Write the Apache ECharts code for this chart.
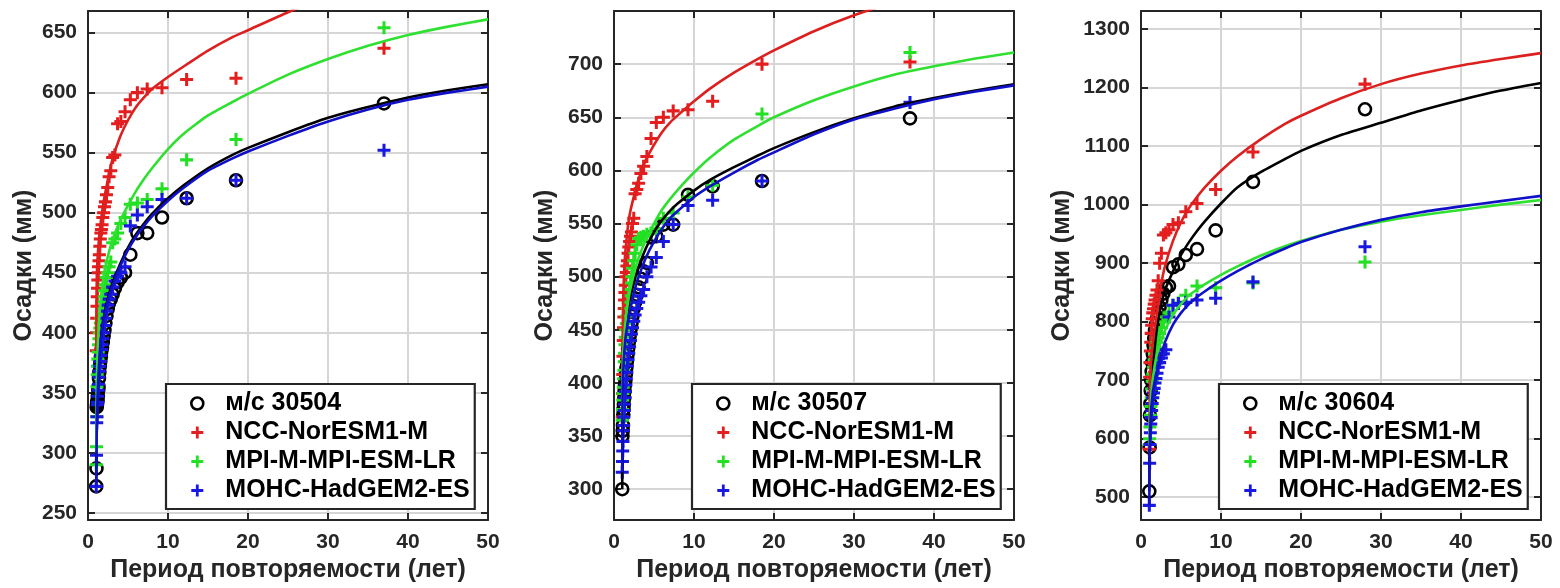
<!DOCTYPE html>
<html><head><meta charset="utf-8">
<script src="https://cdn.jsdelivr.net/npm/echarts@6/dist/echarts.min.js"></script>
<style>html,body{margin:0;padding:0;background:#fff}#c{width:1560px;height:588px}</style>
</head><body><div id="c"></div>
<script>
// ---------- DATA ----------
const modelNames = ['NCC-NorESM1-M', 'MPI-M-MPI-ESM-LR', 'MOHC-HadGEM2-ES'];
const stationNames = ['м/с 30504', 'м/с 30507', 'м/с 30604'];
const xTicks = [0, 10, 20, 30, 40, 50];
const p1YTicks = [250, 300, 350, 400, 450, 500, 550, 600, 650];
const p2YTicks = [300, 350, 400, 450, 500, 550, 600, 650, 700];
const p3YTicks = [500, 600, 700, 800, 900, 1000, 1100, 1200, 1300];

// return periods of the plotted points (years)
const obsT12 = [37, 18.5, 12.33, 9.25, 7.4, 6.17, 5.29, 4.63, 4.11, 3.7, 3.36, 3.08, 2.85, 2.64, 2.47, 2.31, 2.18, 2.06, 1.95, 1.85, 1.76, 1.68, 1.61, 1.54, 1.48, 1.42, 1.37, 1.32, 1.28, 1.23, 1.19, 1.16, 1.12, 1.09, 1.06, 1.03];
const obsT3 = [28, 14, 9.33, 7, 5.6, 4.67, 4, 3.5, 3.11, 2.8, 2.55, 2.33, 2.15, 2, 1.87, 1.75, 1.65, 1.56, 1.47, 1.4, 1.33, 1.27, 1.22, 1.17, 1.12, 1.08, 1.04];

// panel 1 points (mm)
const p1Station = [591, 527, 512, 496, 483, 483, 465, 450, 446, 442, 437, 432, 428, 425, 420, 414, 408, 402, 397, 392, 388, 385, 380, 376, 372, 367, 362, 355, 352, 347, 344, 342, 340, 338, 287, 272];
const p1Ncc = [637, 612, 611, 604, 603, 600, 594, 584, 576, 574, 548, 546, 535, 530, 521, 515, 509, 505, 500, 496, 490, 486, 483, 478, 472, 465, 460, 455, 450, 444, 437, 430, 422, 412, 400, 385];
const p1Mpi = [654, 561, 544, 520, 511, 508, 507, 496, 491, 483, 478, 475, 459, 455, 450, 446, 440, 435, 430, 426, 420, 416, 412, 408, 404, 400, 395, 390, 384, 378, 372, 365, 355, 330, 305, 290];
const p1Mohc = [552, 527, 512, 511, 505, 498, 489, 455, 450, 447, 443, 438, 432, 428, 423, 418, 412, 406, 400, 395, 390, 386, 381, 376, 372, 368, 363, 357, 352, 347, 342, 340, 330, 325, 298, 272];

// panel 2 points
const p2Station = [649, 590, 585, 577, 549, 549, 538, 537, 513, 505, 498, 490, 483, 476, 470, 463, 456, 450, 444, 438, 432, 426, 420, 414, 408, 402, 398, 392, 386, 380, 375, 370, 360, 355, 350, 300];
const p2Ncc = [702, 700, 665, 657, 656, 650, 645, 630, 613, 604, 597, 588, 582, 578, 555, 550, 542, 538, 533, 528, 522, 515, 510, 504, 500, 492, 485, 478, 470, 462, 452, 440, 425, 408, 390, 368];
const p2Mpi = [711, 653, 586, 575, 560, 555, 545, 541, 540, 538, 537, 536, 530, 522, 515, 508, 500, 494, 488, 482, 476, 470, 463, 456, 450, 443, 436, 428, 420, 412, 404, 396, 390, 384, 375, 365];
const p2Mohc = [664, 590, 572, 567, 549, 533, 518, 509, 500, 488, 482, 476, 470, 464, 458, 452, 446, 440, 434, 428, 422, 416, 410, 404, 398, 392, 386, 380, 374, 368, 360, 355, 345, 336, 326, 316];

// panel 3 points
const p3Station = [1163, 1039, 956, 924, 914, 898, 893, 861, 858, 848, 837, 825, 815, 805, 795, 785, 772, 760, 745, 730, 715, 700, 682, 660, 640, 585, 510];
const p3Ncc = [1206, 1090, 1026, 1002, 988, 969, 966, 957, 952, 948, 917, 900, 870, 854, 845, 837, 830, 822, 815, 805, 794, 780, 765, 750, 730, 705, 582];
const p3Mpi = [902, 866, 858, 861, 845, 832, 828, 815, 808, 800, 790, 780, 772, 765, 755, 745, 735, 722, 710, 698, 685, 670, 655, 640, 620, 600, 590];
const p3Mohc = [928, 868, 840, 837, 833, 831, 828, 808, 752, 745, 738, 730, 722, 712, 703, 695, 686, 678, 670, 660, 648, 636, 625, 610, 590, 558, 486];

// fitted curves at these return periods
const curveT12 = [1.03, 1.06, 1.1, 1.15, 1.2, 1.3, 1.4, 1.5, 1.75, 2, 2.5, 3, 4, 5, 6, 7, 8, 10, 12, 15, 18, 20, 25, 30, 35, 40, 45, 50];
const curveT3 = [1.04, 1.06, 1.1, 1.15, 1.2, 1.3, 1.4, 1.5, 1.75, 2, 2.5, 3, 4, 5, 6, 7, 8, 10, 12, 15, 18, 20, 25, 30, 35, 40, 45, 50];

const p1FitStation = [275, 300, 322, 338, 350, 366, 378, 388, 404, 414, 429, 440, 457, 471, 482, 491, 499, 512, 523, 537, 548, 554, 567, 579, 588, 596, 602, 607];
const p1FitNcc = [385, 420, 447, 456, 463, 472, 480, 487, 500, 511, 528, 543, 563, 577, 588, 596, 603, 613, 622, 635, 646, 652, 667, 680, 691, 700, 708, 715];
const p1FitMpi = [300, 330, 355, 372, 384, 400, 412, 421, 437, 449, 464, 476, 493, 506, 518, 528, 537, 553, 566, 581, 592, 599, 615, 628, 639, 648, 655, 661];
const p1FitMohc = [272, 298, 320, 336, 348, 364, 376, 386, 402, 412, 427, 438, 455, 469, 480, 489, 497, 510, 521, 535, 545, 551, 564, 576, 586, 594, 600, 605];

const p2FitStation = [300, 400, 414, 425, 432, 443, 451, 458, 470, 480, 495, 508, 527, 542, 553, 562, 569, 581, 591, 603, 614, 621, 636, 649, 660, 668, 675, 681];
const p2FitNcc = [368, 420, 455, 478, 492, 510, 522, 530, 548, 560, 576, 590, 610, 624, 636, 645, 652, 665, 677, 692, 705, 713, 731, 746, 758, 768, 777, 785];
const p2FitMpi = [365, 395, 412, 425, 433, 446, 455, 462, 476, 487, 503, 516, 535, 550, 563, 573, 582, 598, 612, 629, 642, 650, 666, 679, 690, 698, 705, 711];
const p2FitMohc = [316, 380, 398, 410, 418, 430, 439, 446, 458, 468, 485, 498, 518, 533, 545, 555, 562, 575, 585, 598, 610, 617, 634, 648, 658, 667, 674, 680];

const p3FitStation = [510, 560, 610, 640, 660, 688, 708, 725, 760, 790, 828, 854, 886, 914, 936, 955, 972, 1002, 1029, 1056, 1078, 1092, 1119, 1140, 1161, 1179, 1195, 1208];
const p3FitNcc = [582, 630, 670, 700, 720, 742, 756, 766, 792, 815, 862, 895, 938, 970, 994, 1013, 1030, 1058, 1082, 1112, 1138, 1152, 1182, 1206, 1224, 1238, 1249, 1259];
const p3FitMpi = [590, 610, 630, 648, 660, 680, 695, 706, 728, 745, 767, 785, 812, 830, 845, 855, 864, 880, 894, 913, 929, 938, 957, 971, 982, 991, 1000, 1008];
const p3FitMohc = [486, 540, 585, 615, 635, 655, 668, 682, 700, 715, 742, 765, 795, 815, 830, 842, 852, 870, 886, 907, 925, 936, 957, 974, 987, 997, 1006, 1015];

// ---------- STYLE / LAYOUT ----------
const FONT = 'Liberation Sans, Arial, sans-serif';
const AX = '#262626';
const colStation = '#000000';
const colNcc = '#e41e1e';
const colMpi = '#22e022';
const colMohc = '#1818e0';
const lineNcc = '#dc2020';
const lineMpi = '#30e030';
const lineMohc = '#1010c8';
const PLUS = 'path://M4.6,0H7.4V4.6H12V7.4H7.4V12H4.6V7.4H0V4.6H4.6Z';

const panels = [
  {left: 88, yMin: 244, yMax: 668, yTicks: p1YTicks, nameGap: 51, legendLeft: 166,
   obsT: obsT12, curveT: curveT12, st: p1Station, ncc: p1Ncc, mpi: p1Mpi, mohc: p1Mohc,
   fSt: p1FitStation, fNcc: p1FitNcc, fMpi: p1FitMpi, fMohc: p1FitMohc},
  {left: 614, yMin: 271, yMax: 750, yTicks: p2YTicks, nameGap: 56, legendLeft: 692,
   obsT: obsT12, curveT: curveT12, st: p2Station, ncc: p2Ncc, mpi: p2Mpi, mohc: p2Mohc,
   fSt: p2FitStation, fNcc: p2FitNcc, fMpi: p2FitMpi, fMohc: p2FitMohc},
  {left: 1141, yMin: 461, yMax: 1331, yTicks: p3YTicks, nameGap: 66, legendLeft: 1219,
   obsT: obsT3, curveT: curveT3, st: p3Station, ncc: p3Ncc, mpi: p3Mpi, mohc: p3Mohc,
   fSt: p3FitStation, fNcc: p3FitNcc, fMpi: p3FitMpi, fMohc: p3FitMohc}
];

const pair = (xs, ys) => xs.map((x, i) => [x, ys[i]]);

const grid = [], xAxis = [], yAxis = [], series = [], legend = [];
const axisLineStyle = {color: AX, width: 2};
const labelStyle = {fontSize: 21, fontWeight: 'bold', color: AX, fontFamily: FONT};
const nameStyle = {fontSize: 25, fontWeight: 'bold', color: AX, fontFamily: FONT};

panels.forEach((p, i) => {
  grid.push({left: p.left, top: 11, width: 400, height: 509, containLabel: false});
  xAxis.push({
    type: 'value', gridIndex: i, min: 0, max: 50, interval: 10, position: 'bottom',
    axisLine: {show: true, onZero: false, lineStyle: axisLineStyle},
    axisTick: {show: true, inside: true, length: 7, lineStyle: axisLineStyle, customValues: xTicks},
    axisLabel: Object.assign({margin: 12, customValues: xTicks, formatter: v => String(v)}, labelStyle),
    splitLine: {show: true, lineStyle: {color: '#d6d6d6', width: 2}},
    name: 'Период повторяемости (лет)', nameLocation: 'middle', nameGap: 35,
    nameTextStyle: nameStyle
  });
  xAxis.push({
    type: 'value', gridIndex: i, min: 0, max: 50, interval: 10, position: 'top',
    axisLine: {show: true, onZero: false, lineStyle: axisLineStyle},
    axisTick: {show: true, inside: true, length: 7, lineStyle: axisLineStyle, customValues: xTicks},
    axisLabel: {show: false}, splitLine: {show: false}
  });
  yAxis.push({
    type: 'value', gridIndex: i, min: p.yMin, max: p.yMax, position: 'left',
    axisLine: {show: true, onZero: false, lineStyle: axisLineStyle},
    axisTick: {show: true, inside: true, length: 7, lineStyle: axisLineStyle, customValues: p.yTicks},
    axisLabel: Object.assign({margin: 11, customValues: p.yTicks, formatter: v => String(v)}, labelStyle),
    splitLine: {show: true, lineStyle: {color: '#d6d6d6', width: 2}},
    name: 'Осадки (мм)', nameLocation: 'middle', nameGap: p.nameGap, nameRotate: 90,
    nameTextStyle: nameStyle
  });
  yAxis.push({
    type: 'value', gridIndex: i, min: p.yMin, max: p.yMax, position: 'right',
    axisLine: {show: true, onZero: false, lineStyle: axisLineStyle},
    axisTick: {show: true, inside: true, length: 7, lineStyle: axisLineStyle, customValues: p.yTicks},
    axisLabel: {show: false, customValues: p.yTicks}, splitLine: {show: false}
  });
  const xi = 2 * i, yi = 2 * i;
  const sc = (name, data, symbol, color, isCircle) => ({
    type: 'scatter', name, xAxisIndex: xi, yAxisIndex: yi, data,
    symbol, symbolSize: isCircle ? 12 : 13, z: 3,
    itemStyle: isCircle
      ? {color: 'rgba(255,255,255,0)', borderColor: color, borderWidth: 2.6, opacity: 1}
      : {color, opacity: 1},
    emphasis: {disabled: true}
  });
  series.push(sc(stationNames[i], pair(p.obsT, p.st), 'circle', colStation, true));
  series.push(sc(modelNames[0], pair(p.obsT, p.ncc), PLUS, colNcc, false));
  series.push(sc(modelNames[1], pair(p.obsT, p.mpi), PLUS, colMpi, false));
  series.push(sc(modelNames[2], pair(p.obsT, p.mohc), PLUS, colMohc, false));
  const ln = (name, data, color) => ({
    type: 'line', name, xAxisIndex: xi, yAxisIndex: yi, data, showSymbol: false, symbol: 'none',
    smooth: 0.15, clip: true, z: 4, silent: true,
    lineStyle: {color, width: 2.6, join: 'round'}, emphasis: {disabled: true}
  });
  series.push(ln('fit-st-' + i, pair(p.curveT, p.fSt), '#000'));
  series.push(ln('fit-ncc-' + i, pair(p.curveT, p.fNcc), lineNcc));
  series.push(ln('fit-mpi-' + i, pair(p.curveT, p.fMpi), lineMpi));
  series.push(ln('fit-mohc-' + i, pair(p.curveT, p.fMohc), lineMohc));

  legend.push({
    left: p.legendLeft, top: 384, orient: 'vertical',
    backgroundColor: '#fff', borderColor: AX, borderWidth: 2.2,
    padding: [5, 5, 4, 24], itemGap: 0, itemWidth: 46, itemHeight: 12,
    selectedMode: false,
    textStyle: {fontSize: 25, fontWeight: 'bold', color: '#000', fontFamily: FONT, lineHeight: 29},
    data: [
      {name: stationNames[i], icon: 'circle', itemStyle: {color: 'rgba(255,255,255,0)', borderColor: '#000', borderWidth: 2.6}},
      {name: modelNames[0], icon: PLUS, itemStyle: {color: colNcc, borderWidth: 0}},
      {name: modelNames[1], icon: PLUS, itemStyle: {color: colMpi, borderWidth: 0}},
      {name: modelNames[2], icon: PLUS, itemStyle: {color: colMohc, borderWidth: 0}}
    ]
  });
});

const chart = echarts.init(document.getElementById('c'), null, {renderer: 'canvas'});
chart.setOption({
  backgroundColor: '#fff',
  animation: false,
  grid, xAxis, yAxis, series, legend
});
</script>
</body></html>
